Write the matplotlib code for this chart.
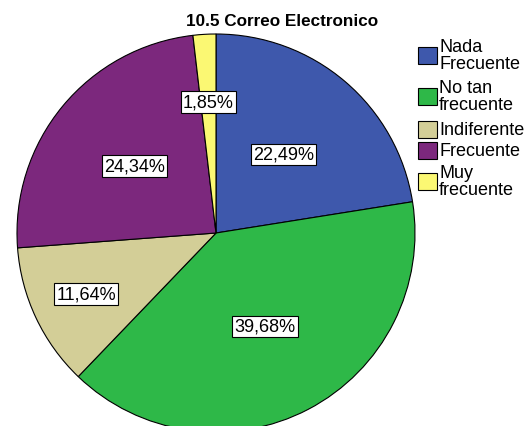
import numpy as np
import matplotlib
matplotlib.use("Agg")
import matplotlib.pyplot as plt
from matplotlib.patches import Rectangle

title = "10.5 Correo Electronico"
categories = ["Nada\nFrecuente", "No tan\nfrecuente", "Indiferente", "Frecuente", "Muy\nfrecuente"]
values = [22.49, 39.68, 11.64, 24.34, 1.85]
colors = ["#3E58AC", "#2EB848", "#D3CE97", "#7C287D", "#FBF873"]
label_radius = [0.52, 0.53, 0.72, 0.53, 0.66]

plt.rcParams["font.family"] = ["Liberation Sans", "DejaVu Sans"]

W, H = 528, 427
fig = plt.figure(figsize=(W / 100, H / 100), dpi=100)
ax = fig.add_axes([0, 0, 1, 1])

# pie geometry in pixel-like axis units (y measured upward)
cx, cy, r = 216, 193, 199
wedges, _ = ax.pie(values, colors=colors, startangle=90, counterclock=False,
                   center=(cx, cy), radius=r, frame=True,
                   wedgeprops=dict(edgecolor="black", linewidth=0.8))
ax.set_xlim(0, W)
ax.set_ylim(0, H)
ax.set_aspect("equal")
ax.axis("off")

# percentage labels inside each wedge
for w, v, f in zip(wedges, values, label_radius):
    ang = np.deg2rad((w.theta1 + w.theta2) / 2)
    x = cx + f * r * np.cos(ang)
    y = cy + f * r * np.sin(ang)
    ax.text(x, y, f"{v:.2f}%".replace(".", ","), ha="center", va="center",
            fontsize=13,
            bbox=dict(boxstyle="square,pad=0.12", facecolor="white",
                      edgecolor="black", linewidth=0.8))

ax.text(282, H - 21, title, ha="center", va="center",
        fontsize=12.3, fontweight="bold")

# legend drawn as swatches + labels on the right
entry_centers = [56, 97, 130.5, 151.5, 182]
sw_x, sw_w, sw_h, txt_x = 418, 19, 17, 439
for label, color, yc in zip(categories, colors, entry_centers):
    y = H - yc
    ax.add_patch(Rectangle((sw_x, y - sw_h / 2), sw_w, sw_h, facecolor=color,
                           edgecolor="black", linewidth=0.8, clip_on=False))
    ax.text(txt_x, y, label, ha="left", va="center", fontsize=13,
            linespacing=0.95)

fig.savefig("out.png", dpi=100, facecolor="white")
